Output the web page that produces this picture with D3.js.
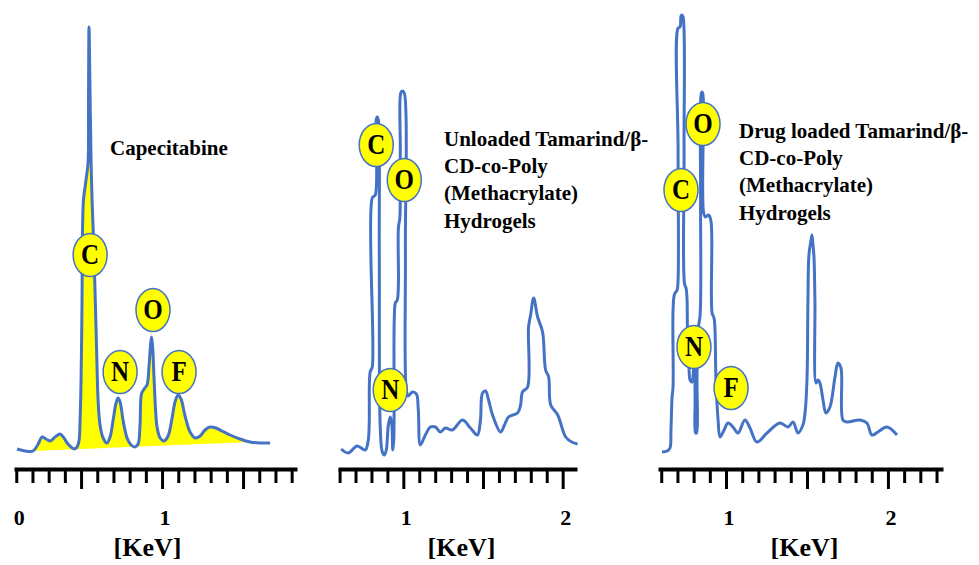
<!DOCTYPE html>
<html>
<head>
<meta charset="utf-8">
<script src="https://cdn.jsdelivr.net/npm/d3@7"></script>
<style>
  html, body { margin: 0; padding: 0; background: #fff; }
  svg { display: block; font-family: "Liberation Serif", "Times New Roman", serif; font-weight: bold; }
</style>
</head>
<body>
<div id="edsChart"></div>
<script>
// EDS spectra, [energy (keV), counts]
const capecitabineSpectrum = [
  [0.105, 11], [0.154, 9], [0.204, 9], [0.235, 16], [0.259, 23], [0.284, 21], [0.309, 19],
  [0.340, 23], [0.370, 26], [0.395, 22], [0.414, 17], [0.438, 13], [0.457, 11], [0.475, 13],
  [0.488, 20], [0.494, 40], [0.500, 80], [0.506, 160], [0.509, 230], [0.515, 260], [0.528, 277],
  [0.543, 297], [0.546, 360], [0.549, 433], [0.556, 360], [0.562, 297], [0.568, 260], [0.577, 220],
  [0.586, 170], [0.596, 110], [0.605, 60], [0.617, 35], [0.636, 22], [0.660, 17], [0.679, 23],
  [0.698, 40], [0.716, 57], [0.728, 62], [0.741, 58], [0.759, 40], [0.784, 22], [0.809, 15],
  [0.833, 13], [0.852, 16], [0.864, 35], [0.873, 66], [0.889, 71], [0.907, 75], [0.920, 95],
  [0.929, 115], [0.935, 123], [0.941, 115], [0.951, 80], [0.960, 50], [0.969, 33], [0.988, 22],
  [1.012, 19], [1.037, 24], [1.062, 42], [1.080, 58], [1.099, 65], [1.117, 61], [1.142, 44],
  [1.173, 28], [1.204, 22], [1.235, 24], [1.265, 30], [1.296, 33], [1.333, 32], [1.370, 29],
  [1.420, 25], [1.481, 21], [1.543, 18], [1.605, 17], [1.667, 17]
];
// straight base line under the yellow fill
const capecitabineFillBase = [[0.204, 9], [1.543, 18]];

const unloadedSpectrum = [
  [0.610, 11], [0.654, 7], [0.711, 14], [0.761, 10], [0.780, 20], [0.786, 37], [0.792, 88],
  [0.805, 93], [0.805, 262], [0.824, 265], [0.830, 340], [0.836, 343], [0.843, 340], [0.849, 210],
  [0.855, 33], [0.868, 8], [0.881, 5], [0.893, 10], [0.906, 35], [0.918, 43], [0.928, 35],
  [0.934, 10], [0.940, 20], [0.943, 140], [0.950, 157], [0.962, 160], [0.969, 175], [0.969, 232],
  [0.978, 242], [0.981, 310], [0.984, 367], [0.994, 369], [1.006, 367], [1.013, 210], [1.019, 70],
  [1.031, 64], [1.057, 68], [1.082, 66], [1.094, 50], [1.107, 15], [1.138, 25], [1.170, 33],
  [1.201, 33], [1.233, 28], [1.264, 32], [1.308, 30], [1.371, 40], [1.421, 32], [1.465, 25],
  [1.484, 40], [1.497, 67], [1.516, 69], [1.535, 60], [1.560, 45], [1.610, 28], [1.635, 35],
  [1.660, 43], [1.717, 47], [1.736, 55], [1.748, 68], [1.780, 73], [1.786, 133], [1.799, 145],
  [1.818, 162], [1.843, 143], [1.874, 128], [1.893, 90], [1.912, 83], [1.925, 55], [1.969, 45],
  [2.019, 23], [2.057, 18], [2.094, 16]
];

const loadedSpectrum = [
  [0.605, 8], [0.636, 9], [0.654, 12], [0.660, 30], [0.667, 63], [0.673, 73], [0.673, 150],
  [0.682, 166], [0.698, 170], [0.704, 180], [0.704, 310], [0.704, 432], [0.716, 433], [0.722, 444],
  [0.728, 445], [0.735, 443], [0.741, 310], [0.744, 176], [0.753, 172], [0.759, 162], [0.762, 130],
  [0.772, 90], [0.778, 80], [0.790, 78], [0.799, 90], [0.806, 115], [0.809, 60], [0.812, 27],
  [0.818, 27], [0.821, 80], [0.827, 130], [0.840, 145], [0.843, 260], [0.846, 365], [0.852, 368],
  [0.858, 365], [0.861, 248], [0.873, 243], [0.892, 245], [0.907, 239], [0.914, 147], [0.926, 142],
  [0.932, 130], [0.938, 80], [0.951, 40], [0.963, 23], [0.988, 30], [1.012, 37], [1.043, 33],
  [1.074, 27], [1.117, 40], [1.148, 32], [1.191, 18], [1.253, 27], [1.333, 37], [1.383, 33],
  [1.414, 38], [1.444, 27], [1.475, 35], [1.488, 47], [1.500, 80], [1.506, 160], [1.512, 205],
  [1.525, 220], [1.531, 225], [1.537, 215], [1.543, 204], [1.549, 160], [1.556, 77], [1.568, 80],
  [1.580, 77], [1.599, 60], [1.617, 47], [1.642, 53], [1.673, 83], [1.691, 97], [1.710, 92],
  [1.722, 40], [1.747, 38], [1.827, 40], [1.870, 37], [1.901, 25], [1.938, 28], [1.994, 33],
  [2.056, 25]
];

// element markers [symbol, keV, counts]
const capecitabinePeaks = [["C", 0.556, 205], ["N", 0.741, 88], ["O", 0.944, 150], ["F", 1.105, 88]];
const unloadedPeaks = [["C", 0.830, 315], ["O", 1.006, 280], ["N", 0.918, 70]];
const loadedPeaks = [["O", 0.858, 336], ["C", 0.722, 270], ["N", 0.802, 113], ["F", 1.031, 72]];

const capecitabineTitle = ["Capecitabine"];
const unloadedTitle = ["Unloaded Tamarind/β-", "CD-co-Poly", "(Methacrylate)", "Hydrogels"];
const loadedTitle = ["Drug loaded Tamarind/β-", "CD-co-Poly", "(Methacrylate)", "Hydrogels"];

const capecitabineTicks = d3.range(1, 19).map(i => i / 10);
const unloadedTicks = d3.range(6, 21).map(i => i / 10);
const loadedTicks = d3.range(6, 24).map(i => i / 10);

// tick labels [text, keV]
const capecitabineTickLabels = [["0", 0.1], ["1", 1]];
const unloadedTickLabels = [["1", 1], ["2", 2]];
const loadedTickLabels = [["1", 1], ["2", 2]];

const unitLabel = "[KeV]";

const lineColor = "#4472C4";
const fillColor = "#FFFF00";

const width = 979, height = 565;
const axisY = 469;

const panels = [
  { spectrum: capecitabineSpectrum, fillBase: capecitabineFillBase, peaks: capecitabinePeaks,
    title: capecitabineTitle, ticks: capecitabineTicks, tickLabels: capecitabineTickLabels,
    domain: [0.086, 1.833], range: [14, 297], titleX: 110, titleY: 155 },
  { spectrum: unloadedSpectrum, peaks: unloadedPeaks,
    title: unloadedTitle, ticks: unloadedTicks, tickLabels: unloadedTickLabels,
    domain: [0.59, 2.09], range: [338, 577], titleX: 444, titleY: 146 },
  { spectrum: loadedSpectrum, peaks: loadedPeaks,
    title: loadedTitle, ticks: loadedTicks, tickLabels: loadedTickLabels,
    domain: [0.58, 2.34], range: [658, 943], titleX: 739, titleY: 138 }
];

const svg = d3.select('#edsChart')
  .append('svg')
  .attr('width', width)
  .attr('height', height);

const yScale = d3.scaleLinear().domain([0, 440]).range([460, 20]);

panels.forEach(drawPanel);

function drawPanel(p) {
  const x = d3.scaleLinear().domain(p.domain).range(p.range);
  const g = svg.append('g');

  // yellow area under the capecitabine spectrum
  if (p.fillBase) {
    const base = d3.scaleLinear()
      .domain([p.fillBase[0][0], p.fillBase[1][0]])
      .range([p.fillBase[0][1], p.fillBase[1][1]]);
    const inside = p.spectrum.filter(d => d[0] >= p.fillBase[0][0] && d[0] <= p.fillBase[1][0]);
    g.append('path')
      .datum(inside)
      .attr('d', d3.area()
        .x(d => x(d[0]))
        .y0(d => yScale(base(d[0])))
        .y1(d => yScale(d[1]))
        .curve(d3.curveCatmullRom.alpha(0.5)))
      .style('fill', fillColor);
  }

  g.append('path')
    .datum(p.spectrum)
    .attr('d', d3.line()
      .x(d => x(d[0]))
      .y(d => yScale(d[1]))
      .curve(d3.curveCatmullRom.alpha(0.5)))
    .style('fill', 'none')
    .style('stroke', lineColor)
    .style('stroke-width', 3)
    .style('stroke-linejoin', 'round');

  // element markers
  const mark = g.selectAll('.peak')
    .data(p.peaks)
    .enter()
    .append('g')
    .attr('class', 'peak')
    .attr('transform', d => `translate(${x(d[1])},${yScale(d[2])})`);

  mark.append('ellipse')
    .attr('rx', 17)
    .attr('ry', 21.5)
    .style('fill', fillColor)
    .style('stroke', lineColor)
    .style('stroke-width', 1.5);

  mark.append('text')
    .attr('transform', 'scale(1,1.15)')
    .attr('y', 7.5)
    .attr('text-anchor', 'middle')
    .style('font-size', '25px')
    .style('fill', 'black')
    .text(d => d[0]);

  // sample name
  g.append('text')
    .selectAll('tspan')
    .data(p.title)
    .enter()
    .append('tspan')
    .attr('x', p.titleX)
    .attr('y', (d, i) => p.titleY + i * 27.2)
    .style('font-size', '21px')
    .text(d => d);

  // energy axis
  const axis = g.append('g')
    .attr('transform', `translate(0,${axisY})`)
    .call(d3.axisBottom(x).tickValues(p.ticks).tickSize(14).tickSizeOuter(0).tickFormat(''));

  axis.select('.domain').style('stroke', 'black').style('stroke-width', 4);
  axis.selectAll('.tick line')
    .style('stroke', 'black')
    .style('stroke-width', 3)
    .attr('y2', d => Math.round(d * 10) % 5 === 0 ? 20 : 14);

  g.selectAll('.tick-label')
    .data(p.tickLabels)
    .enter()
    .append('text')
    .attr('class', 'tick-label')
    .attr('x', d => x(d[1]) + 3)
    .attr('y', 525)
    .attr('text-anchor', 'middle')
    .style('font-size', '22px')
    .text(d => d[0]);

  g.append('text')
    .attr('x', (p.range[0] + p.range[1]) / 2 + (p.fillBase ? -8 : 4))
    .attr('y', 556)
    .attr('text-anchor', 'middle')
    .style('font-size', '26px')
    .text(unitLabel);
}
</script>
</body>
</html>
